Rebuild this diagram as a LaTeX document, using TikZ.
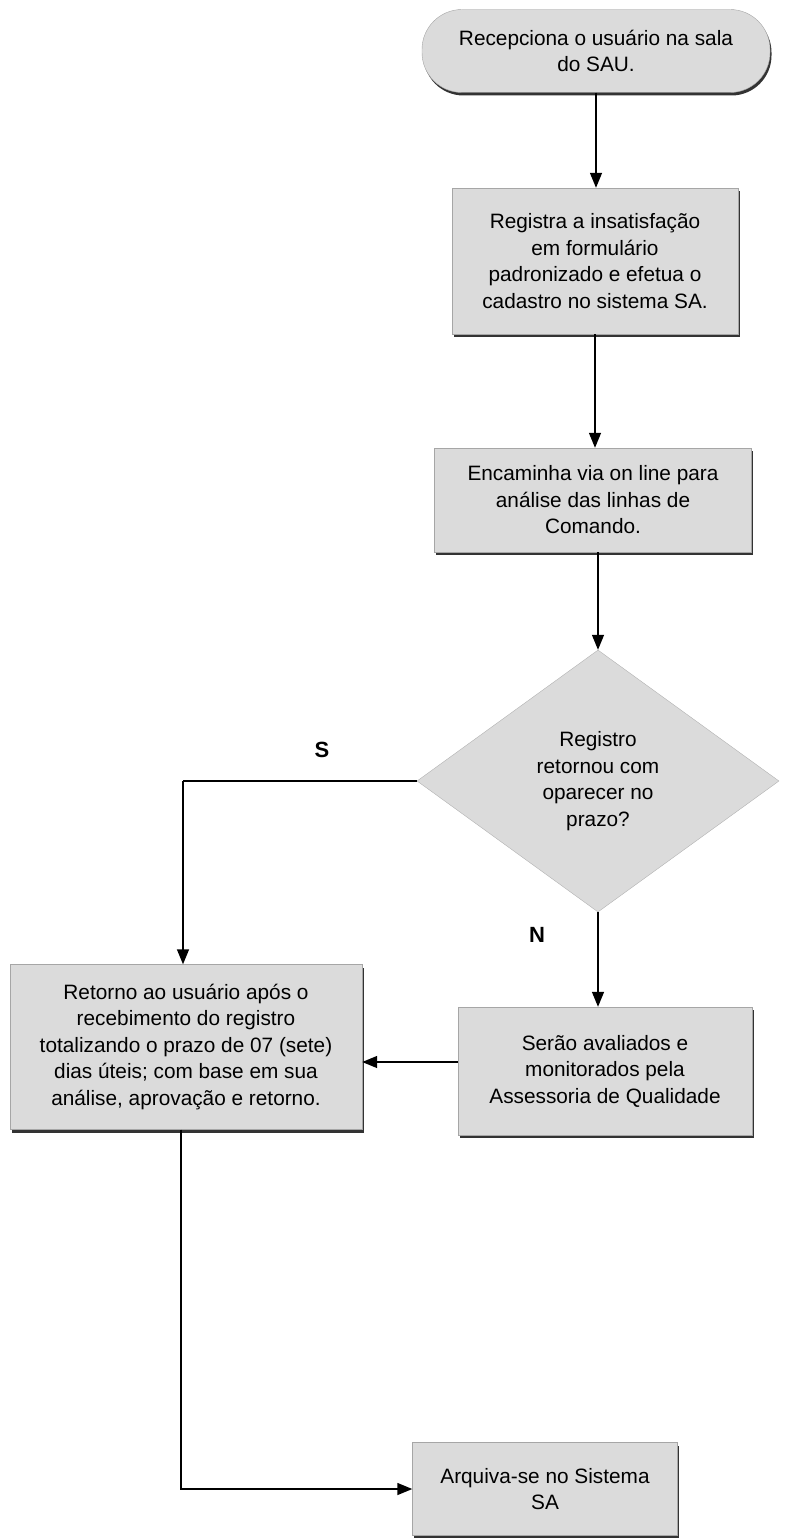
\documentclass[tikz,border=0pt]{standalone}
\usepackage{fontspec}
\setmainfont{Liberation Sans}
\usetikzlibrary{arrows.meta,shapes.geometric,shadows}
\begin{document}
\begin{tikzpicture}[x=1pt,y=-1pt,
  proc/.style={rectangle, fill=black!14, draw=black!35, line width=0.4pt,
    align=center, inner sep=0pt,
    drop shadow={shadow xshift=1.5pt, shadow yshift=-3pt, fill=black!80, opacity=1},
    font=\fontsize{20.8}{26.5}\selectfont},
  term/.style={proc, rounded corners=40pt},
  dec/.style={diamond, fill=black!14, draw=black!30, line width=0.4pt, align=center,
    inner sep=0pt, aspect=1.38, font=\fontsize{20.8}{26.5}\selectfont},
  arr/.style={line width=1.4pt, -{Triangle[length=15pt,width=12pt]}},
  ln/.style={line width=1.4pt},
  lbl/.style={font=\bfseries\fontsize{22}{26}\selectfont}]
\useasboundingbox (0,0) rectangle (795,1538);

\node[term, minimum width=348pt, minimum height=83pt] (start) at (596,51)
  {Recepciona o usuário na sala\\do SAU.};
\node[proc, minimum width=286pt, minimum height=146pt] (reg) at (595,261)
  {Registra a insatisfação\\em formulário\\padronizado e efetua o\\cadastro no sistema SA.};
\node[proc, minimum width=317pt, minimum height=104pt] (enc) at (593,500)
  {Encaminha via on line para\\análise das linhas de\\Comando.};
\node[dec, minimum width=362pt, minimum height=262pt] (dec) at (598,781)
  {Registro\\retornou com\\oparecer no\\prazo?};
\node[proc, minimum width=352pt, minimum height=165pt] (ret) at (186,1047)
  {Retorno ao usuário após o\\recebimento do registro\\totalizando o prazo de 07 (sete)\\dias úteis; com base em sua\\análise, aprovação e retorno.};
\node[proc, minimum width=294pt, minimum height=128pt] (ser) at (605,1071)
  {Serão avaliados e\\monitorados pela\\Assessoria de Qualidade};
\node[proc, minimum width=265pt, minimum height=93pt] (arq) at (545,1489)
  {Arquiva-se no Sistema\\SA};

\coordinate (sc) at (183,781);
\node[lbl] (S) at (322,750) {S};
\node[lbl] (N) at (537,935) {N};

\draw[arr] (start.south) -- (start.south |- reg.north);
\draw[arr] (reg.south) -- (reg.south |- enc.north);
\draw[arr] (enc.south -| dec.north) -- (dec.north);
\draw[ln] (dec.west) -- (sc);
\draw[arr] (sc) -- (sc |- ret.north);
\draw[arr] (dec.south) -- (dec.south |- ser.north);
\draw[arr] ([yshift=9pt]ser.west) -- ([yshift=9pt]ser.west -| ret.east);
\draw[arr] ([xshift=-5pt]ret.south) |- (arq.west);
\end{tikzpicture}
\end{document}
